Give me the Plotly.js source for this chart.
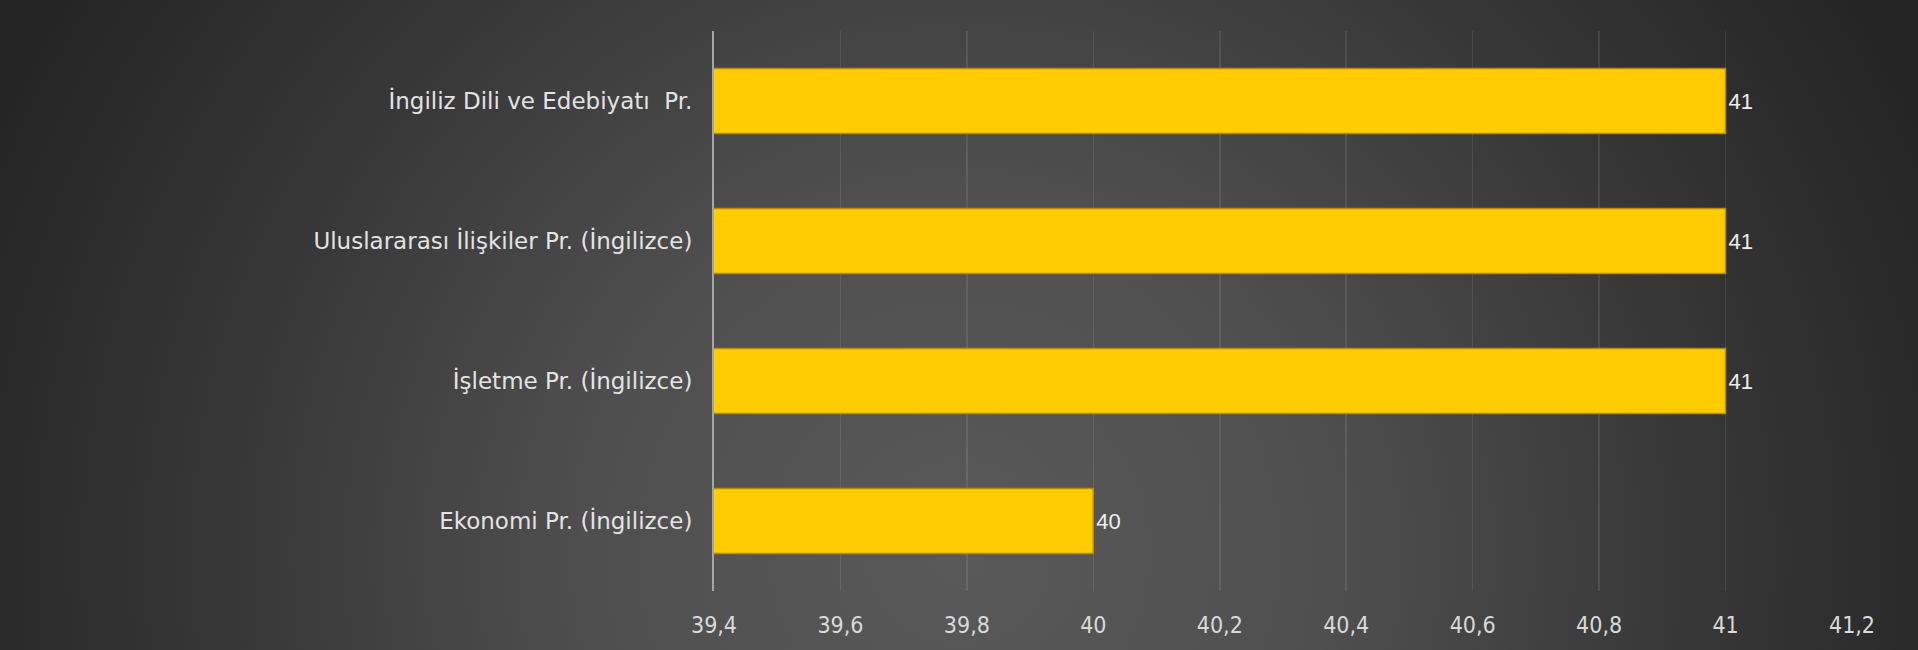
<!DOCTYPE html>
<html>
<head>
<meta charset="utf-8">
<script src="https://cdn.plot.ly/plotly-3.0.1.min.js"></script>
<style>
html,body{margin:0;padding:0;width:1918px;height:650px;overflow:hidden;}
#chart{width:1918px;height:650px;
background: radial-gradient(ellipse 55% 160% at 50% 85%, #595959 0%, #4f4f4f 35%, #383838 68%, #252525 100%);}
</style>
</head>
<body>
<div id="chart"></div>
<script>
const categories = ["Ekonomi Pr. (İngilizce)", "İşletme Pr. (İngilizce)", "Uluslararası İlişkiler Pr. (İngilizce)", "İngiliz Dili ve Edebiyatı  Pr."];
const values = [40, 41, 41, 41];
const xTicks = [39.4, 39.6, 39.8, 40, 40.2, 40.4, 40.6, 40.8, 41, 41.2];

const trace = {
  type: 'bar',
  orientation: 'h',
  y: categories,
  x: values,
  marker: {color: '#ffcc00', line: {color: '#b88c00', width: 1.5}},
  text: values.map(v => String(v)),
  textposition: 'outside',
  cliponaxis: false,
  textfont: {family: 'Liberation Sans, Arial, sans-serif', size: 22, color: '#eeeeee'},
  hoverinfo: 'none'
};

const layout = {
  width: 1918, height: 650,
  paper_bgcolor: 'rgba(0,0,0,0)',
  plot_bgcolor: 'rgba(0,0,0,0)',
  margin: {l: 714, r: 66, t: 31, b: 59},
  separators: ',.',
  bargap: 0.536,
  showlegend: false,
  xaxis: {
    range: [39.4, 41.2],
    tickvals: xTicks,
    ticktext: xTicks.map(v => String(v).replace('.', ',')),
    showgrid: true,
    gridcolor: 'rgba(255,255,255,0.09)',
    gridwidth: 1.5,
    zeroline: false,
    showline: false,
    ticks: '',
    ticklabelstandoff: 18,
    tickfont: {family: 'DejaVu Sans Condensed, DejaVu Sans, sans-serif', size: 23, color: '#d9d9d9'}
  },
  yaxis: {
    categoryorder: 'array',
    categoryarray: categories,
    showgrid: false,
    zeroline: false,
    showline: true,
    linecolor: '#a6a6a6',
    linewidth: 2,
    ticks: '',
    ticklabelstandoff: 15,
    tickfont: {family: 'DejaVu Sans, sans-serif', size: 23, color: '#e3e3e3'}
  }
};

Plotly.newPlot('chart', [trace], layout, {displayModeBar: false, staticPlot: true});
</script>
</body>
</html>
